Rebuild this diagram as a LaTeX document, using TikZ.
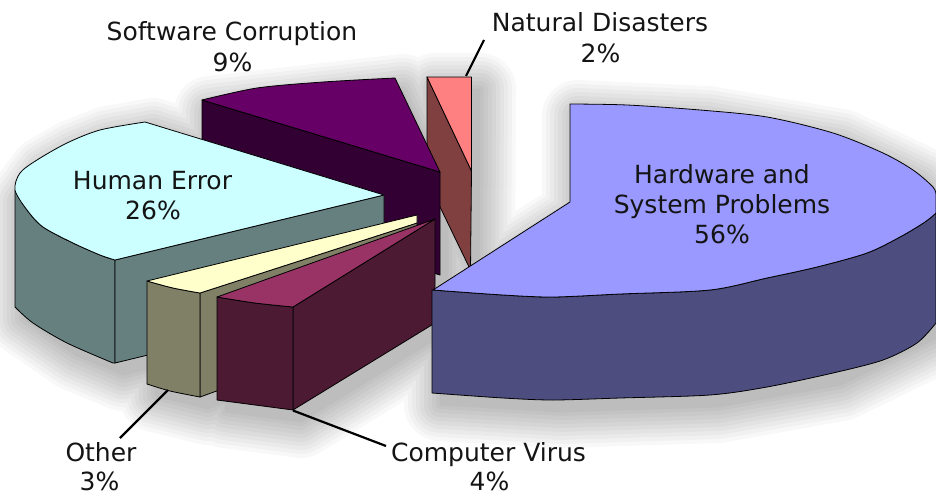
\documentclass[tikz,border=0pt]{standalone}
\usepackage{fontspec}
\setmainfont{DejaVu Sans}
\definecolor{hwTop}{HTML}{9999FF}
\definecolor{hwSide}{HTML}{4D4D80}
\definecolor{heTop}{HTML}{CCFFFF}
\definecolor{heSide}{HTML}{668080}
\definecolor{scTop}{HTML}{660066}
\definecolor{scSide}{HTML}{330033}
\definecolor{ndTop}{HTML}{FF8080}
\definecolor{ndSide}{HTML}{804040}
\definecolor{otTop}{HTML}{FFFFCC}
\definecolor{otSide}{HTML}{808066}
\definecolor{cvTop}{HTML}{993366}
\definecolor{cvSide}{HTML}{4D1A33}
\tikzset{
  face/.style={draw=black, line width=0.8pt, line join=round},
  lbl/.style={anchor=base, inner sep=0pt, font=\fontsize{25}{30}\selectfont, text=black!92},
  leader/.style={draw=black, line width=2.2pt},
  silhouettes/.style={insert path={
    (570,104) -- (700,110) -- (833,133) -- (913,170) -- (936,195) -- (936,323) -- (833,373) -- (710,395) -- (553,400) -- (432,393) -- (432,290) -- (570,202) -- cycle
    (145,122) -- (384,195) -- (384,298) -- (115,363) -- (67,343) -- (15,307) -- (15,190) -- (37,160) -- (67,143) -- (100,130) -- cycle
    (202,100) -- (395,78) -- (440,172) -- (440,275) -- (202,203) -- cycle
    (427,77) -- (472,77) -- (471,270) -- (427,180) -- cycle
    (147,281) -- (417,215) -- (417,319) -- (200,397) -- (147,384) -- cycle
    (217,297) -- (435,219) -- (435,323) -- (293,410) -- (217,400) -- cycle}}
}
\begin{document}
\begin{tikzpicture}[x=1pt,y=-1pt]
\useasboundingbox (0,0) rectangle (936,495);
\fill[white] (0,0) rectangle (936,495);

% soft drop shadow
\begin{scope}
\clip (0,0) rectangle (936,495);
\foreach \w in {72,64,56,48,40,32,24,16,8,1}{
  \begin{scope}[transparency group, opacity=0.028, shift={(8,12)}]
    \path[fill=black, draw=black, line width=\w pt, line join=round, silhouettes];
  \end{scope}
}
\end{scope}

% Natural Disasters (2%)
\path[face, fill=ndSide] (427,77) -- (471.5,171) -- (470.5,270) -- (427,180) -- cycle;
\path[face, fill=ndTop] (427,77) -- (471.5,77) -- (471.5,171) -- cycle;

% Software Corruption (9%)
\path[face, fill=scSide] (202,100) -- (440,172) -- (440,275) -- (202,203) -- cycle;
\path[face, fill=scTop] plot[smooth] coordinates {(202,100) (257,88) (323,82) (395,78)} -- (440,172) -- cycle;

% Human Error (26%)
\path[face, fill=heSide] plot[smooth] coordinates {(15,190) (27,210) (43,227) (73,243) (100,255) (115,260)}
  -- (115,363) -- plot[smooth] coordinates {(113,363) (67,343) (33,323) (15,307)} -- cycle;
\path[face, fill=heSide] (115,260) -- (384,195) -- (384,298) -- (115,363) -- cycle;
\path[face, fill=heTop] (145,122) -- plot[smooth] coordinates {(145,122) (100,130) (67,143) (37,160) (20,173) (15,190) (27,210) (43,227) (73,243) (100,255) (115,260)}
  -- (384,195) -- cycle;

% Other (3%)
\path[face, fill=otSide] (200,293) -- (417,223) -- (417,319) -- (200,397) -- cycle;
\path[face, fill=otSide] plot[smooth] coordinates {(147,281) (173,288) (200,293)} -- (200,397)
  -- plot[smooth] coordinates {(200,397) (170,391) (147,384)} -- cycle;
\path[face, fill=otTop] plot[smooth] coordinates {(147,281) (173,288) (200,293)} -- (417,223) -- (417,215) -- cycle;

% Computer Virus (4%)
\path[face, fill=cvSide] (293,307) -- (435,219) -- (435,323) -- (293,410) -- cycle;
\path[face, fill=cvSide] plot[smooth] coordinates {(217,297) (255,303) (293,307)} -- (293,410)
  -- plot[smooth] coordinates {(293,410) (255,405) (217,400)} -- cycle;
\path[face, fill=cvTop] plot[smooth] coordinates {(217,297) (255,303) (293,307)} -- (435,219) -- cycle;

% Hardware and System Problems (56%)
\path[face, fill=hwSide] plot[smooth] coordinates {(432,290) (503,295) (553,297) (620,294) (710,290) (767,278) (817,267) (867,253) (900,237) (925,222) (936,213)}
  -- (936,323) -- plot[smooth] coordinates {(936,323) (917,343) (883,360) (833,373) (767,387) (710,395) (620,398) (553,400) (503,398) (432,393)} -- cycle;
\path[face, fill=hwTop] plot[smooth] coordinates {(570,104) (627,105) (700,110) (767,117) (833,133) (883,153) (913,170) (933,187) (936,195)}
  -- (936,213) -- plot[smooth] coordinates {(936,213) (925,222) (900,237) (867,253) (817,267) (767,278) (710,290) (620,294) (553,297) (503,295) (433,290)}
  -- (570,202) -- cycle;

% Labels
\node[lbl] (hw1) at (722,183) {Hardware and};
\node[lbl] (hw2) at (722,213.5) {System Problems};
\node[lbl] (hw3) at (722,243.5) {56\%};
\node[lbl] (he1) at (152.5,189.5) {Human Error};
\node[lbl] (he2) at (153,219.5) {26\%};
\node[lbl] (sc1) at (232,40.7) {Software Corruption};
\node[lbl] (sc2) at (232.5,71.5) {9\%};
\node[lbl] (nd1) at (600,32) {Natural Disasters};
\node[lbl] (nd2) at (600.5,63) {2\%};
\node[lbl] (ot1) at (101,461) {Other};
\node[lbl] (ot2) at (99.5,490) {3\%};
\node[lbl] (cv1) at (488.5,461) {Computer Virus};
\node[lbl] (cv2) at (489.5,490) {4\%};

% Leader lines
\coordinate (ndA) at (466,76);
\coordinate (ndB) at (484,40);
\coordinate (otA) at (168,390);
\coordinate (otB) at (120,438);
\coordinate (cvA) at (293,410.5);
\coordinate (cvB) at (386,446);
\draw[leader] (ndA) -- (ndB);
\draw[leader] (otA) -- (otB);
\draw[leader] (cvA) -- (cvB);
\end{tikzpicture}
\end{document}
